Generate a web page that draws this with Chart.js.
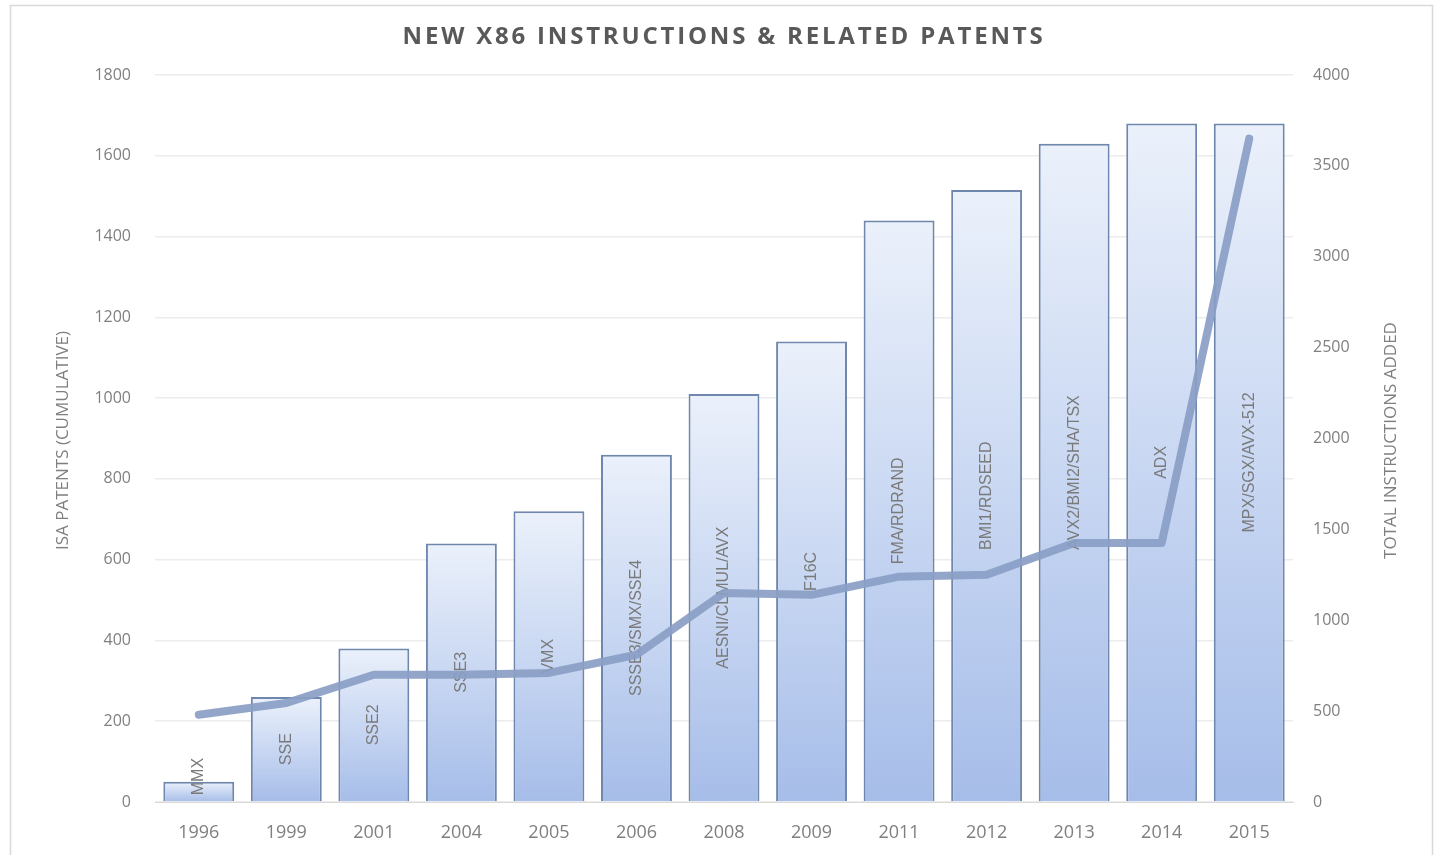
<!DOCTYPE html>
<html>
<head>
<meta charset="utf-8">
<script src="https://cdn.jsdelivr.net/npm/chart.js@4"></script>
<style>
  html, body { margin: 0; padding: 0; background: #fff; }
  #wrap { width: 1440px; height: 855px; }
</style>
</head>
<body>
<div id="wrap"><canvas id="graficoPatentes" width="1440" height="855"></canvas></div>
<script>
// datos
const anios = ["1996", "1999", "2001", "2004", "2005", "2006", "2008", "2009", "2011", "2012", "2013", "2014", "2015"];
const extensiones = ["MMX", "SSE", "SSE2", "SSE3", "VMX", "SSSE3/SMX/SSE4", "AESNI/CLMUL/AVX", "F16C",
  "FMA/RDRAND", "BMI1/RDSEED", "AVX2/BMI2/SHA/TSX", "ADX", "MPX/SGX/AVX-512"];
const patentes = [50, 260, 380, 640, 720, 860, 1010, 1140, 1440, 1515, 1630, 1680, 1680];
const instrucciones = [480, 545, 700, 700, 710, 810, 1150, 1140, 1240, 1250, 1425, 1425, 3650];
const ticksPatentes = [0, 200, 400, 600, 800, 1000, 1200, 1400, 1600, 1800];
const ticksInstrucciones = [0, 500, 1000, 1500, 2000, 2500, 3000, 3500, 4000];

const gris = "#7f7f7f";
const fuenteNum = "'Open Sans', 'Liberation Sans', sans-serif";
const fuenteEtiq = "'Liberation Sans Narrow', 'Arial Narrow', 'Liberation Sans', sans-serif";

// degradado por cada barra (claro arriba, azul abajo)
function rellenoBarra(context) {
  const chart = context.chart;
  if (!chart.chartArea || context.dataIndex === undefined) return "#c5d5f1";
  const escala = chart.scales.y;
  const yTop = escala.getPixelForValue(patentes[context.dataIndex]);
  const yBase = escala.getPixelForValue(0);
  const g = chart.ctx.createLinearGradient(0, yTop, 0, yBase);
  g.addColorStop(0, "#ebf1fb");
  g.addColorStop(1, "#a6bde9");
  return g;
}

// titulo, titulos de ejes y marco
const pluginDecoracion = {
  id: "decoracion",
  beforeDraw(chart) {
    const ctx = chart.ctx;
    ctx.save();
    ctx.strokeStyle = "#d9d9d9";
    ctx.lineWidth = 1.5;
    ctx.strokeRect(10.5, 5.5, 1422, 870);
    ctx.restore();
  },
  afterDraw(chart) {
    const ctx = chart.ctx;
    const area = chart.chartArea;
    ctx.save();
    ctx.fillStyle = "#595959";
    ctx.font = "bold 24px " + fuenteNum;
    ctx.letterSpacing = "2.8px";
    ctx.textAlign = "center";
    ctx.textBaseline = "middle";
    ctx.fillText("NEW X86 INSTRUCTIONS & RELATED PATENTS", 724, 37);
    ctx.letterSpacing = "0px";

    const medio = (area.top + area.bottom) / 2 + 2;
    ctx.fillStyle = gris;
    ctx.font = "17px " + fuenteNum;
    ctx.translate(63, medio);
    ctx.rotate(-Math.PI / 2);
    ctx.fillText("ISA PATENTS (CUMULATIVE)", 0, 0);
    ctx.restore();

    ctx.save();
    ctx.fillStyle = gris;
    ctx.font = "17px " + fuenteNum;
    ctx.textAlign = "center";
    ctx.textBaseline = "middle";
    ctx.translate(1391, medio);
    ctx.rotate(-Math.PI / 2);
    ctx.fillText("TOTAL INSTRUCTIONS ADDED", 0, 0);
    ctx.restore();
  },
  // etiquetas dentro de las barras, antes de dibujar la linea
  afterDatasetDraw(chart, args) {
    if (args.index !== 0) return;
    const ctx = chart.ctx;
    ctx.save();
    ctx.fillStyle = "#7a7a7a";
    ctx.font = "16px " + fuenteEtiq;
    ctx.textAlign = "center";
    ctx.textBaseline = "middle";
    args.meta.data.forEach((barra, i) => {
      const texto = extensiones[i];
      const ancho = ctx.measureText(texto).width;
      let centro = (barra.y + barra.base) / 2;
      if (centro + ancho / 2 > barra.base - 6) centro = barra.base - 6 - ancho / 2;
      ctx.save();
      ctx.translate(barra.x, centro);
      ctx.rotate(-Math.PI / 2);
      ctx.fillText(texto, 0, 0);
      ctx.restore();
    });
    ctx.restore();
  }
};

const datos = {
  labels: anios,
  datasets: [
    {
      type: "bar",
      label: "ISA patents",
      data: patentes,
      yAxisID: "y",
      backgroundColor: rellenoBarra,
      borderColor: "#6f86ad",
      borderWidth: 2,
      barPercentage: 0.81,
      categoryPercentage: 1,
      order: 1
    },
    {
      type: "line",
      label: "Total instructions",
      data: instrucciones,
      yAxisID: "y1",
      borderColor: "rgba(138, 158, 198, 0.92)",
      borderWidth: 8,
      pointRadius: 0,
      tension: 0,
      borderCapStyle: "round",
      borderJoinStyle: "round",
      order: 0
    }
  ]
};

const config = {
  type: "bar",
  data: datos,
  plugins: [pluginDecoracion],
  options: {
    responsive: false,
    animation: false,
    layout: { padding: { top: 75, left: 0, right: 0, bottom: 0 } },
    plugins: {
      legend: { display: false },
      title: { display: false },
      tooltip: { enabled: false }
    },
    scales: {
      x: {
        grid: { display: false, drawTicks: false },
        border: { display: true, color: "#d9d9d9" },
        ticks: { color: gris, font: { size: 18, family: fuenteNum }, padding: 20 },
        afterFit(axis) { axis.height = 53; }
      },
      y: {
        position: "left",
        min: 0,
        max: 1800,
        afterBuildTicks(axis) { axis.ticks = ticksPatentes.map(v => ({ value: v })); },
        grid: { color: "#ececec", lineWidth: 1.5, drawTicks: false },
        border: { display: false },
        ticks: {
          color: gris,
          font: { size: 16, family: fuenteNum },
          padding: 24,
          callback: (valor) => String(valor)
        },
        afterFit(axis) { axis.width = 155; }
      },
      y1: {
        position: "right",
        min: 0,
        max: 4000,
        afterBuildTicks(axis) { axis.ticks = ticksInstrucciones.map(v => ({ value: v })); },
        grid: { display: false, drawTicks: false },
        border: { display: false },
        ticks: {
          color: gris,
          font: { size: 16, family: fuenteNum },
          padding: 20,
          callback: (valor) => String(valor)
        },
        afterFit(axis) { axis.width = 147; }
      }
    }
  }
};

const ctx = document.getElementById("graficoPatentes").getContext("2d");
new Chart(ctx, config);
</script>
</body>
</html>
